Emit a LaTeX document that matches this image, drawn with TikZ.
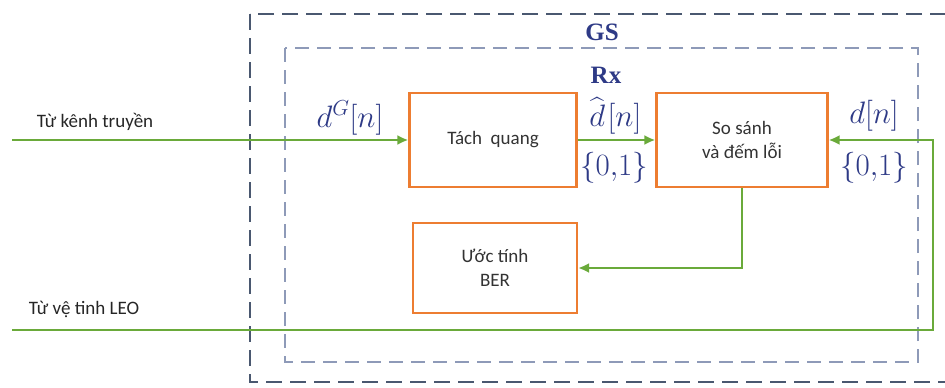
\documentclass[tikz,border=0pt]{standalone}
\usepackage{fix-cm}
\usepackage{amsmath}
\usepackage{fontspec}
\setmainfont{Carlito}
\newfontfamily\titlefont{Liberation Serif}
\usetikzlibrary{arrows.meta}

\definecolor{boxorange}{HTML}{ED7D31}
\definecolor{linkgreen}{HTML}{6AAA3A}
\definecolor{gsgray}{HTML}{4A5870}
\definecolor{rxgray}{HTML}{8E9AB8}
\definecolor{labnavy}{HTML}{2E3A86}

% estimate with a wide hat over d
\newcommand{\dest}{{\ooalign{$\widehat{\phantom{d\mkern3mu}}$\cr\hfil$d$\hfil\cr}}}

\begin{document}
\begin{tikzpicture}[x=1pt,y=-1pt,
    block/.style={draw=boxorange,line width=2.2pt,fill=white,align=center,
      font=\fontsize{19}{24}\selectfont,text=black!80},
    link/.style={draw=linkgreen,line width=2.8pt,>={Latex[length=11pt,width=10pt]}},
    sig/.style={text=labnavy,inner sep=1pt,font=\fontsize{31}{34}\selectfont},
    title/.style={text=labnavy,font=\fontsize{25}{27}\selectfont\titlefont\bfseries},
    side/.style={font=\fontsize{19}{22}\selectfont,text=black!85}]
  \useasboundingbox (0,0) rectangle (945,388);

  % GS and Rx frames
  \draw[gsgray,line width=2.6pt,dash pattern=on 16pt off 8pt] (250,14) rectangle (962,382);
  \draw[rxgray,line width=1.8pt,dash pattern=on 14pt off 8pt] (285,48) rectangle (918,362);
  \node[title] (gs) at (602,32) {GS};
  \node[title] (rx) at (606,75) {Rx};

  % blocks
  \node[block,minimum width=167pt,minimum height=94pt] (tach) at (493,140) {Tách\ \ quang};
  \node[block,minimum width=171pt,minimum height=94pt] (sosanh) at (742,140) {So sánh\\và đếm lỗi};
  \node[block,minimum width=164pt,minimum height=90pt] (ber) at (495,268) {Ước tính\\BER};

  % inputs
  \node[side] (kenh) at (95,122) {Từ kênh truyền};
  \node[side] (leo) at (84,309) {Từ vệ tinh LEO};
  \coordinate (kenhin) at (12,140);
  \coordinate (leoin) at (12,330);
  \coordinate (corner) at (933,330);

  \draw[link,->] (kenhin) -- (tach);
  \draw[link,->] (tach) -- (sosanh);
  \draw[link,->] (leoin) -- (corner) |- (sosanh.east);
  \draw[link,->] (sosanh.south) |- (ber.east);

  % signal labels
  \node[sig] (dg) at (350,118) {$d^G[n]$};
  \node[sig] (dhat) at (614,116) {$\dest[n]$};
  \node[sig] (bits1) at (614,168) {$\{0{,}1\}$};
  \node[sig] (dn) at (874,116) {$d[n]$};
  \node[sig] (bits2) at (874,168) {$\{0{,}1\}$};
\end{tikzpicture}
\end{document}
